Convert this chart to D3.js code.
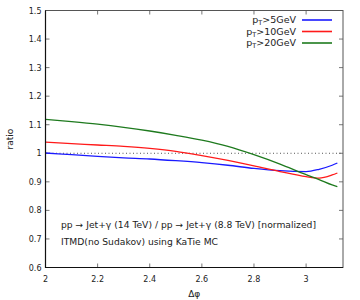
<!DOCTYPE html>
<html>
<head>
<meta charset="utf-8">
<script src="https://cdn.jsdelivr.net/npm/d3@7"></script>
<style>
  body { margin: 0; background: #fff; }
  text { font-family: "DejaVu Sans", sans-serif; fill: #222; }
</style>
</head>
<body>
<svg id="chart" width="360" height="300"></svg>
<script>
// data
const dphi   = [2.0, 2.1, 2.2, 2.3, 2.4, 2.5, 2.6, 2.7, 2.8, 2.9, 3.0, 3.05, 3.1, 3.12];
const pt5    = [1.001, 0.995, 0.989, 0.984, 0.980, 0.974, 0.967, 0.958, 0.947, 0.939, 0.936, 0.944, 0.958, 0.966];
const pt10   = [1.039, 1.034, 1.029, 1.024, 1.017, 1.007, 0.992, 0.975, 0.956, 0.936, 0.918, 0.913, 0.924, 0.931];
const pt20   = [1.119, 1.111, 1.102, 1.091, 1.078, 1.063, 1.046, 1.024, 0.995, 0.962, 0.925, 0.908, 0.889, 0.883];
const seriesNames = ["5", "10", "20"];
const xTicks = [2, 2.2, 2.4, 2.6, 2.8, 3];
const yTicks = [0.6, 0.7, 0.8, 0.9, 1, 1.1, 1.2, 1.3, 1.4, 1.5];
const noteLines = ["pp \u2192 Jet+\u03b3 (14 TeV) / pp \u2192 Jet+\u03b3 (8.8 TeV) [normalized]",
                   "ITMD(no Sudakov) using KaTie MC"];

const colors = ["#1a1aff", "#ff1a1a", "#1e7a1e"];
const margin = {top: 10.5, right: 17, bottom: 32.5, left: 45.5};
const W = 360, H = 300;

var svg = d3.select("#chart");

var x = d3.scaleLinear().domain([2, Math.PI]).range([margin.left, W - margin.right]);
var y = d3.scaleLinear().domain([0.6, 1.5]).range([H - margin.bottom, margin.top]);

// ticks (inward)
var tk = svg.append("g").attr("stroke", "#777").attr("stroke-width", 1);
xTicks.forEach(v => {
  tk.append("line").attr("x1", x(v)).attr("x2", x(v)).attr("y1", y(0.6)).attr("y2", y(0.6) - 4);
  tk.append("line").attr("x1", x(v)).attr("x2", x(v)).attr("y1", y(1.5)).attr("y2", y(1.5) + 4);
});
yTicks.forEach(v => {
  tk.append("line").attr("x1", x(2)).attr("x2", x(2) + 4).attr("y1", y(v)).attr("y2", y(v));
  tk.append("line").attr("x1", x(Math.PI)).attr("x2", x(Math.PI) - 4).attr("y1", y(v)).attr("y2", y(v));
});

// tick labels
svg.append("g").selectAll("text").data(xTicks).join("text")
  .attr("x", d => x(d)).attr("y", y(0.6) + 14)
  .attr("text-anchor", "middle").attr("font-size", 8)
  .text(d => d3.format("")(d));
svg.append("g").selectAll("text").data(yTicks).join("text")
  .attr("x", x(2) - 4).attr("y", d => y(d) + 3)
  .attr("text-anchor", "end").attr("font-size", 8)
  .text(d => d3.format("")(d));

// reference line at 1
svg.append("line")
  .attr("x1", x(2)).attr("x2", x(Math.PI))
  .attr("y1", y(1)).attr("y2", y(1))
  .attr("stroke", "#555").attr("stroke-width", 1)
  .attr("stroke-dasharray", "1,2.5");

// curves
var line = d3.line().curve(d3.curveMonotoneX)
  .x((d, i) => x(dphi[i])).y(d => y(d));
[pt5, pt10, pt20].forEach((s, i) => {
  svg.append("path").datum(s)
    .attr("d", line)
    .attr("fill", "none")
    .attr("stroke", colors[i])
    .attr("stroke-width", 1.3);
});

// frame
svg.append("rect")
  .attr("x", x(2)).attr("y", y(1.5))
  .attr("width", x(Math.PI) - x(2)).attr("height", y(0.6) - y(1.5))
  .attr("fill", "none").attr("stroke", "#555").attr("stroke-width", 1);
svg.append("path")
  .attr("d", `M${x(2)},${y(1.5)}V${y(0.6)}H${x(Math.PI)}`)
  .attr("fill", "none").attr("stroke", "#111").attr("stroke-width", 1.2);

// legend
var lg = svg.append("g");
seriesNames.forEach((n, i) => {
  var ly = 20 + i * 11.5;
  var t = lg.append("text").attr("x", 296).attr("y", ly + 3)
    .attr("text-anchor", "end").attr("font-size", 9.5);
  t.append("tspan").text("p");
  t.append("tspan").attr("font-size", 6.5).attr("dy", 2).text("T");
  t.append("tspan").attr("dy", -2).text(">" + n + "GeV");
  lg.append("line").attr("x1", 302).attr("x2", 332).attr("y1", ly).attr("y2", ly)
    .attr("stroke", colors[i]).attr("stroke-width", 1.6);
});

// notes
noteLines.forEach((s, i) => {
  svg.append("text").attr("x", 61).attr("y", 228 + i * 17)
    .attr("font-size", 9.2).text(s);
});

// axis titles
svg.append("text")
  .attr("transform", `translate(13,${(y(0.6) + y(1.5)) / 2}) rotate(-90)`)
  .attr("text-anchor", "middle").attr("font-size", 9).text("ratio");
svg.append("text")
  .attr("x", (x(2) + x(Math.PI)) / 2).attr("y", 297)
  .attr("text-anchor", "middle").attr("font-size", 9).text("\u0394\u03c6");
</script>
</body>
</html>
